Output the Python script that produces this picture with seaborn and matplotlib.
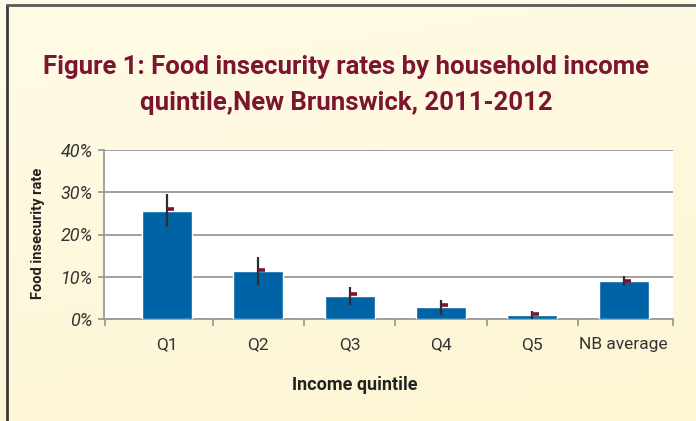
import numpy as np
import pandas as pd
import matplotlib
matplotlib.use("Agg")
import matplotlib.pyplot as plt
from matplotlib.lines import Line2D
import seaborn as sns

# Data
categories = ["Q1", "Q2", "Q3", "Q4", "Q5", "NB average"]
rates = [25.6, 11.4, 5.4, 2.8, 0.9, 9.0]
err_low = [21.8, 8.1, 3.3, 1.0, 0.0, 7.8]
err_high = [29.6, 14.6, 7.6, 4.5, 2.0, 10.2]
point_est = [26.0, 11.6, 5.8, 3.2, 1.3, 9.1]
y_ticks = [0, 10, 20, 30, 40]

title = "Figure 1: Food insecurity rates by household income\nquintile,New Brunswick, 2011-2012"

sns.set_theme(style="white")
plt.rcParams["font.family"] = ["Roboto", "DejaVu Sans"]

df = pd.DataFrame({"quintile": categories, "rate": rates})

fig = plt.figure(figsize=(6.96, 4.21), dpi=100)

# Cream gradient background
bg = fig.add_axes([0, 0, 1, 1], zorder=-10)
gy, gx = np.mgrid[0:1:200j, 0:1:200j]
t = (gy * 0.8 + gx * 0.2)
top = np.array([255, 251, 230]) / 255
bot = np.array([253, 246, 212]) / 255
img = top[None, None, :] * (1 - t[..., None]) + bot[None, None, :] * t[..., None]
bg.imshow(img, aspect="auto", extent=[0, 1, 0, 1], origin="upper")
bg.axis("off")

# Frame lines (left and top)
W, H = 696, 421
fig.add_artist(Line2D([6.5 / W, 6.5 / W], [0, 1 - 5 / H], color="#3a3a3a", lw=2))
fig.add_artist(Line2D([6.5 / W, 1], [1 - 5 / H, 1 - 5 / H], color="#5a5a5a", lw=2))

ax = fig.add_axes([104 / W, 1 - 319 / H, (673 - 104) / W, (319 - 150) / H])
ax.set_facecolor("white")

sns.barplot(data=df, x="quintile", y="rate", color="#0063a6", width=0.55,
            saturation=1, ax=ax, zorder=3)

xs = np.arange(len(categories))
lo = np.array(rates) - np.array(err_low)
hi = np.array(err_high) - np.array(rates)
ax.errorbar(xs, rates, yerr=[lo, hi], fmt="none", ecolor="#2e2e2e",
            elinewidth=1.6, capsize=0, zorder=4)
ax.plot(xs, point_est, linestyle="none", marker=[(0, 0), (1, 0)],
        markersize=10, markeredgewidth=2.6, color="#7b1530", zorder=5)

ax.set_ylim(0, 40)
ax.set_xlim(-0.69, 5.54)
ax.set_yticks(y_ticks)
ax.set_yticklabels([f"{v}%" for v in y_ticks], fontstyle="italic",
                   fontsize=13, color="#333333")
ax.yaxis.grid(True, color="#9a9a9a", lw=1.3, zorder=0)
ax.set_axisbelow(True)

ax.set_xticks([-0.68, 0.5, 1.5, 2.5, 3.5, 4.5, 5.54])
ax.set_xticklabels([])
ax.set_xticks(xs, minor=True)
ax.set_xticklabels(categories, minor=True, fontsize=12.5, color="#333333")
ax.tick_params(axis="x", which="major", direction="out", length=5,
               color="#9a9a9a", width=1.3, bottom=True)
ax.tick_params(axis="x", which="minor", length=0, pad=13)
ax.tick_params(axis="y", direction="out", length=4, color="#9a9a9a",
               width=1.3, left=True, pad=4)

for side in ["top", "right"]:
    ax.spines[side].set_visible(False)
for side in ["left", "bottom"]:
    ax.spines[side].set_color("#9a9a9a")
    ax.spines[side].set_linewidth(1.3)

ax.set_xlabel("Income quintile", fontsize=13, fontweight="bold",
              color="#222222")
ax.xaxis.set_label_coords((355 - 104) / 569, -(385 - 319) / 169)
ax.xaxis.label.set_va("center")
ax.set_ylabel("Food insecurity rate", fontsize=10.5, fontweight="bold",
              color="#222222")
ax.yaxis.set_label_coords(-(104 - 38) / 569, (319 - 233) / 169)
ax.yaxis.label.set_va("center")

fig.text(346 / W, 1 - 85 / H, title, ha="center", va="center",
         fontsize=18.5, fontweight="bold", color="#7b1530", linespacing=1.65)

fig.savefig("out.png", dpi=100)
